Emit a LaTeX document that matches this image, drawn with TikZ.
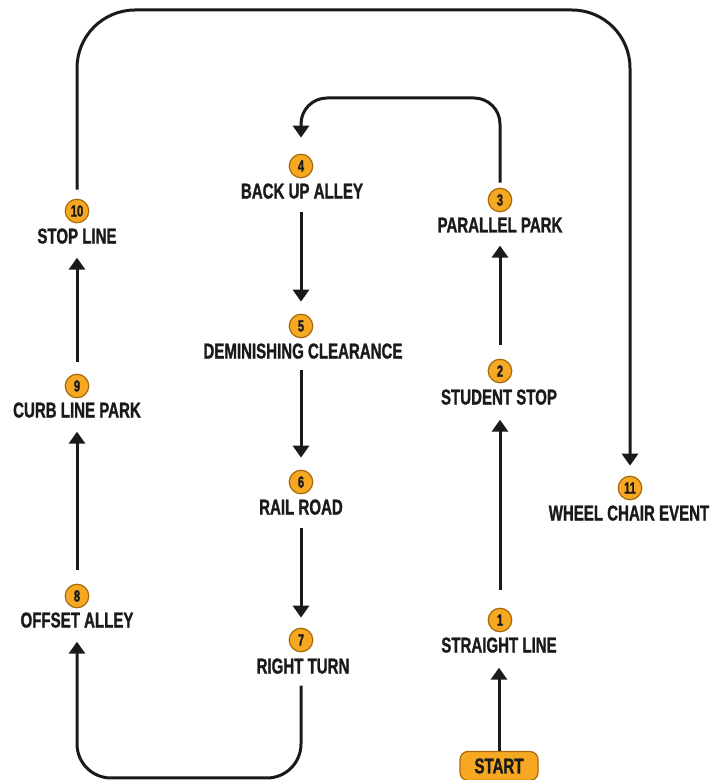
\documentclass[tikz,border=0pt]{standalone}
\usepackage{fontspec}
\newfontfamily\cond[FakeStretch=0.70,FakeBold=1.2]{Liberation Sans Bold}
\usetikzlibrary{arrows.meta,calc}
\definecolor{badge}{HTML}{F7A823}
\definecolor{badgeline}{HTML}{A86A08}
\definecolor{ink}{HTML}{1A1A1A}
\tikzset{
  lbl/.style={inner sep=0pt, text depth=0pt, text=ink, font=\cond\fontsize{21.5}{21.5}\selectfont},
  num/.style={circle, fill=badge, draw=badgeline, line width=1.2pt, minimum size=23.5pt, inner sep=0pt, text=ink, font=\cond\fontsize{16}{16}\selectfont},
  startbox/.style={rounded corners=8pt, fill=badge, draw=badgeline, line width=1.2pt, minimum width=78pt, minimum height=29pt, inner sep=0pt, text=ink, font=\cond\fontsize{21.5}{21.5}\selectfont},
  arr/.style={draw=ink, line width=3pt, -{Triangle[width=16pt,length=12pt]}}
}
\begin{document}
\begin{tikzpicture}[x=1pt,y=1pt]
\useasboundingbox (0,0) rectangle (710,780);
% column left
\node[num] (c10) at (77,569) {10};
\node[lbl] (t10) at (77,544) {STOP LINE};
\node[num] (c9) at (77,394) {9};
\node[lbl] (t9) at (77,370) {CURB LINE PARK};
\node[num] (c8) at (77,184) {8};
\node[lbl] (t8) at (77,160) {OFFSET ALLEY};
% middle column
\node[num] (c4) at (301,614) {4};
\node[lbl] (t4) at (302,589) {BACK UP ALLEY};
\node[num] (c5) at (301,454) {5};
\node[lbl] (t5) at (303,429) {DEMINISHING CLEARANCE};
\node[num] (c6) at (301,298) {6};
\node[lbl] (t6) at (301,273) {RAIL ROAD};
\node[num] (c7) at (301,140) {7};
\node[lbl] (t7) at (303,114) {RIGHT TURN};
% right column
\node[num] (c3) at (500,580) {3};
\node[lbl] (t3) at (500,555) {PARALLEL PARK};
\node[num] (c2) at (500,409) {2};
\node[lbl] (t2) at (499,383) {STUDENT STOP};
\node[num] (c1) at (500,160) {1};
\node[lbl] (t1) at (499,135) {STRAIGHT LINE};
\node[startbox] (start) at (499,14) {START};
\node[num] (c11) at (630,292) {11};
\node[lbl] (t11) at (629,267) {WHEEL CHAIR EVENT};
% routing coordinates
\coordinate (top) at (0,770);
\coordinate (mid) at (0,682);
\coordinate (bot) at (0,2);
% connectors
\draw[arr, shorten >=15pt] (start.north) -- (start.north |- t1.south);
\draw[arr, shorten <=18pt, shorten >=15pt] (c1.north) -- (c1.north |- t2.south);
\draw[arr, shorten <=14pt, shorten >=13pt] (c2.north) -- (c2.north |- t3.south);
\draw[arr, rounded corners=26pt] ($(c3.north)+(0,5)$) -- (c3.north |- mid) -- (c4.north |- mid) -- ($(c4.north)+(0,16)$);
\draw[arr, shorten <=13pt, shorten >=12pt] (t4.south -| c4) -- (c5.north);
\draw[arr, shorten <=11pt, shorten >=12pt] (t5.south -| c5) -- (c6.north);
\draw[arr, shorten <=13pt, shorten >=10pt] (t6.south -| c6) -- (c7.north);
\draw[arr, rounded corners=34pt] ($(t7.south -| c7)+(0,-12)$) -- (c7 |- bot) -- (t8 |- bot) -- ($(t8.south)+(0,-14)$);
\draw[arr, shorten <=14pt, shorten >=14pt] (c8.north) -- (t9.south);
\draw[arr, shorten <=12pt, shorten >=14pt] (c9.north) -- (t10.south);
\draw[arr, rounded corners=58pt] ($(c10.north)+(0,9)$) -- (c10.north |- top) -- (c11.north |- top) -- ($(c11.north)+(0,10)$);
\end{tikzpicture}
\end{document}
